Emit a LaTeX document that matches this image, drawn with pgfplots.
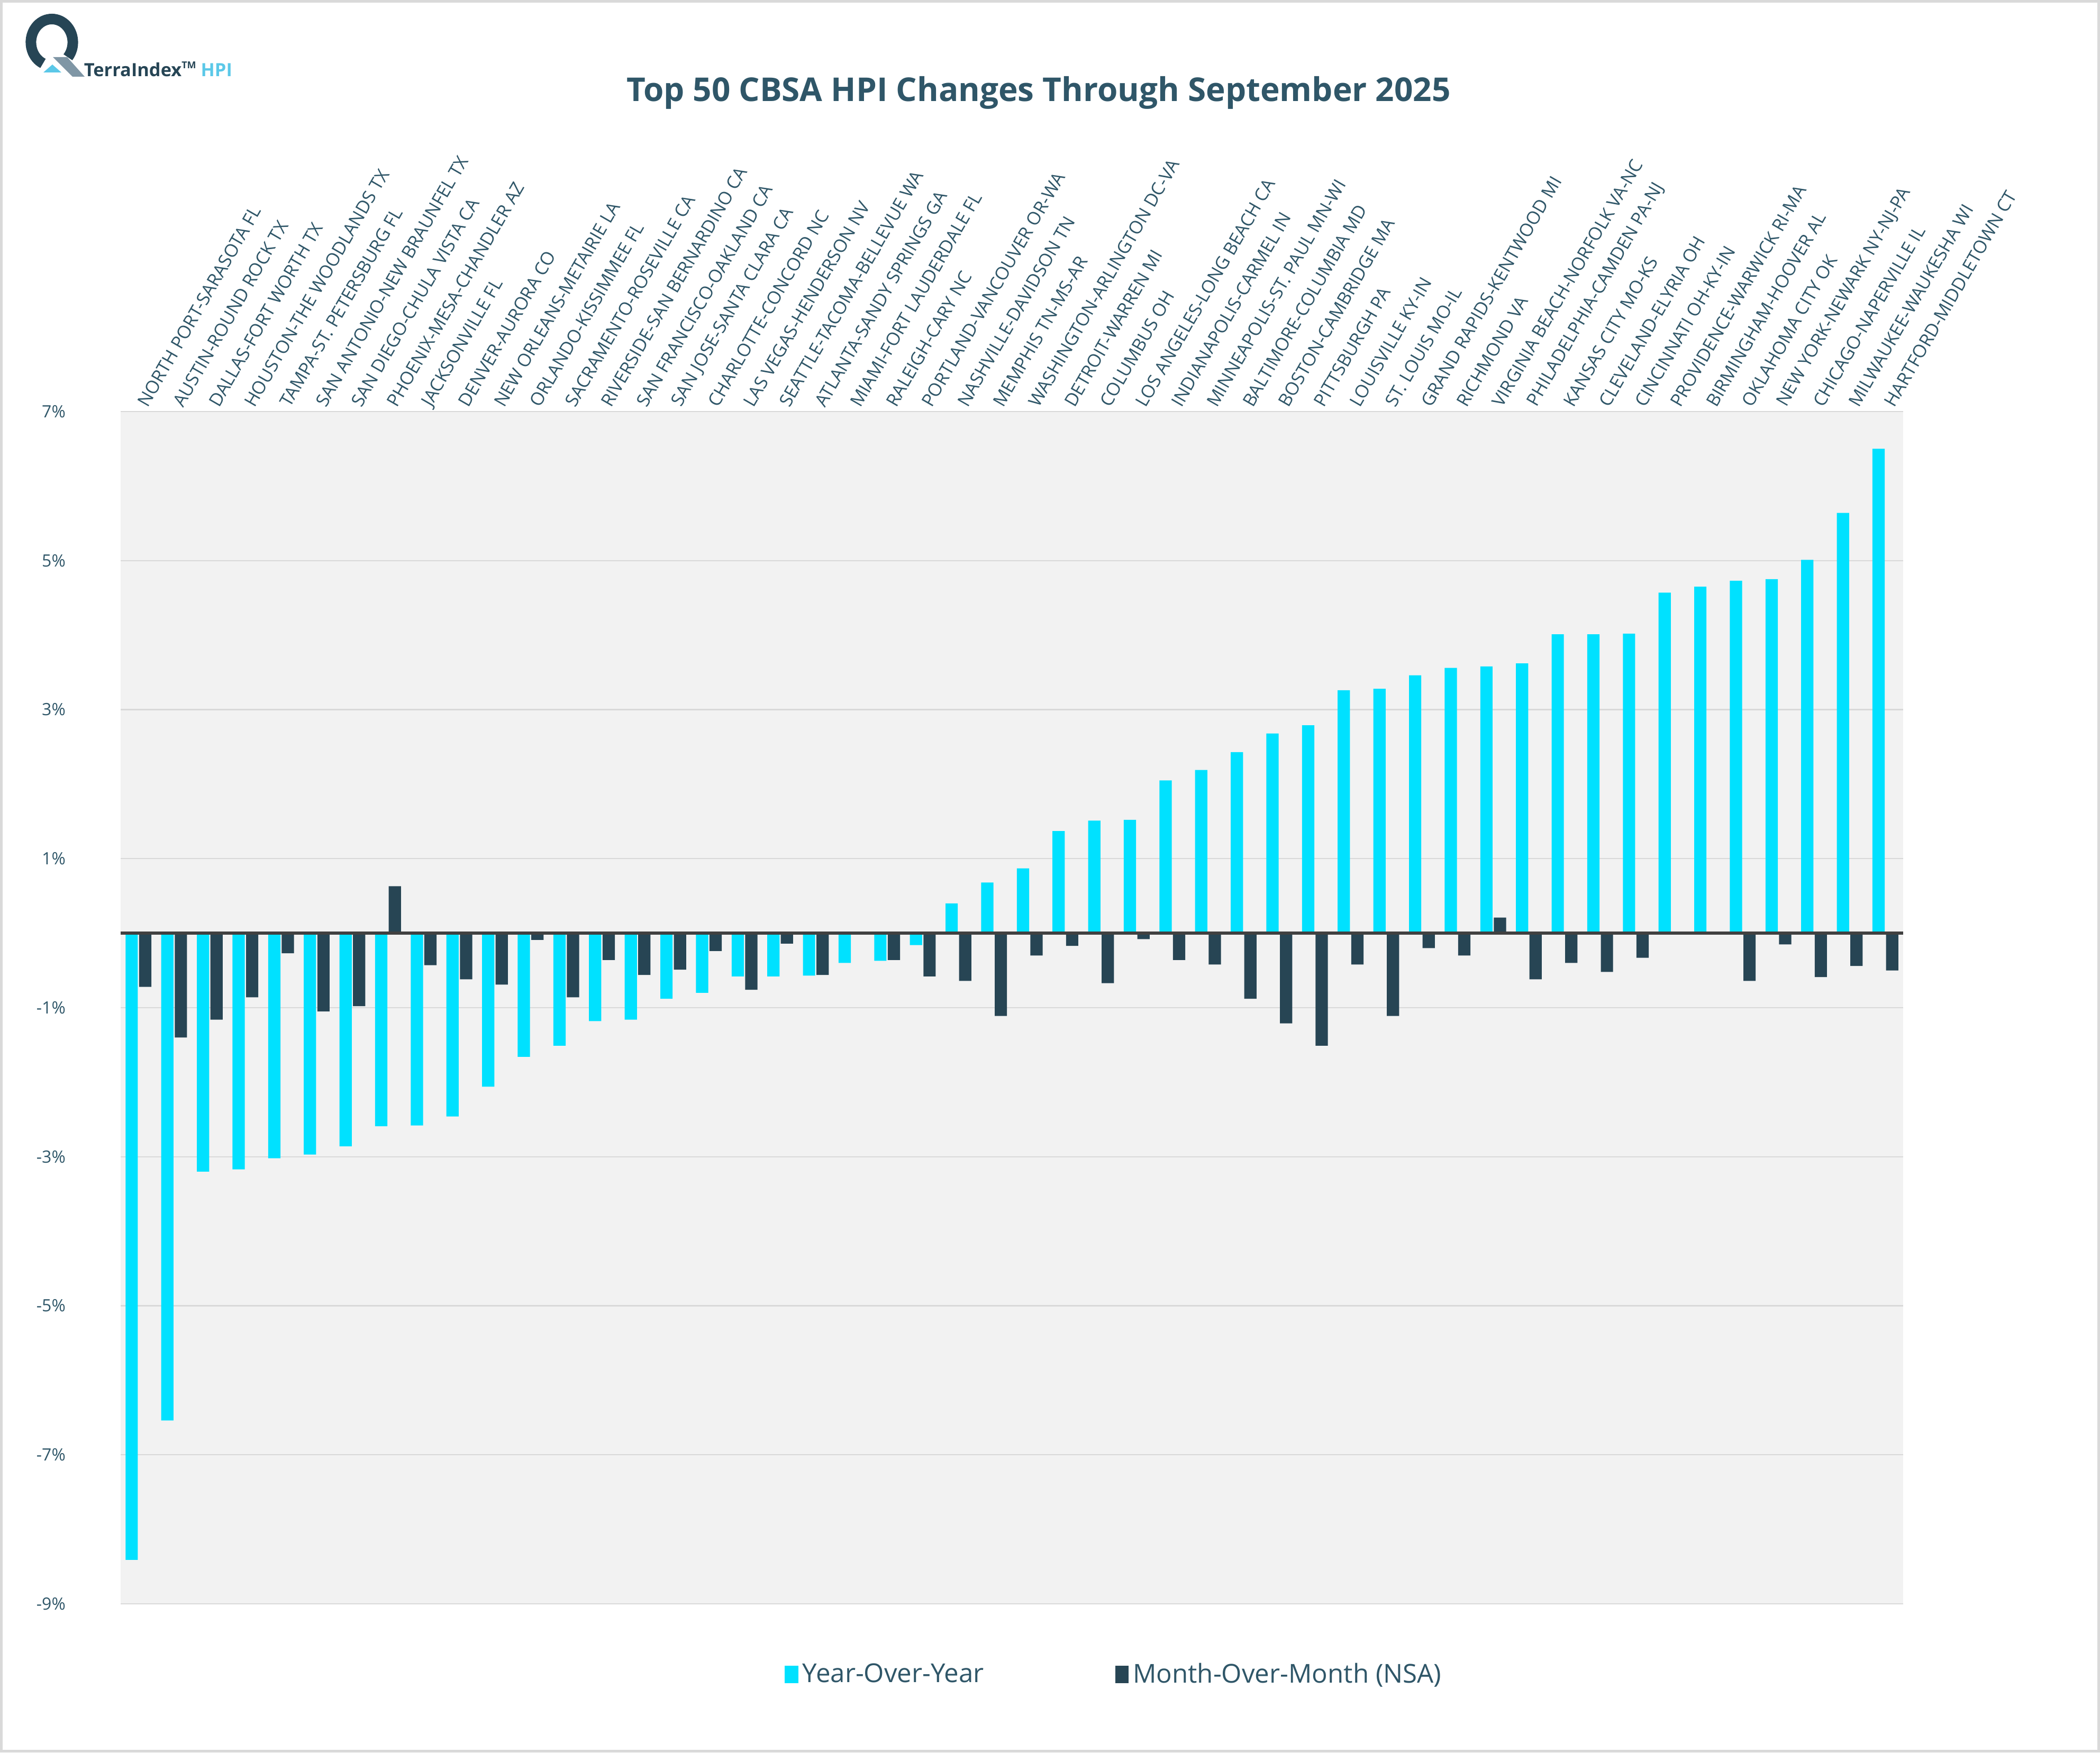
\documentclass[border=0pt]{standalone}
\usepackage{pgfplots}
\pgfplotsset{compat=1.18}
\usepackage{pgfplotstable}
\usepackage{fontspec}
\setmainfont{Open Sans}

\definecolor{yoy}{HTML}{00E1FF}
\definecolor{mom}{HTML}{274554}
\definecolor{txt}{HTML}{2F5668}
\definecolor{gridgray}{HTML}{D9D9D9}
\definecolor{plotbg}{HTML}{F2F2F2}
\definecolor{zeroline}{HTML}{404040}
\definecolor{logodark}{HTML}{264555}
\definecolor{logogray}{HTML}{7F96A5}
\definecolor{logocyan}{HTML}{5BC8E8}

% idx, year-over-year %, month-over-month (NSA) %
\pgfplotstableread{
idx yoy mom
1  -8.41 -0.72
2  -6.54 -1.40
3  -3.20 -1.16
4  -3.17 -0.86
5  -3.02 -0.27
6  -2.97 -1.05
7  -2.86 -0.98
8  -2.59  0.63
9  -2.58 -0.43
10 -2.46 -0.62
11 -2.06 -0.69
12 -1.66 -0.09
13 -1.51 -0.86
14 -1.18 -0.36
15 -1.16 -0.56
16 -0.88 -0.49
17 -0.80 -0.24
18 -0.58 -0.76
19 -0.58 -0.14
20 -0.57 -0.56
21 -0.40  0.02
22 -0.37 -0.36
23 -0.16 -0.58
24  0.40 -0.64
25  0.68 -1.11
26  0.87 -0.30
27  1.37 -0.17
28  1.51 -0.67
29  1.52 -0.08
30  2.05 -0.36
31  2.19 -0.42
32  2.43 -0.88
33  2.68 -1.21
34  2.79 -1.51
35  3.26 -0.42
36  3.28 -1.11
37  3.46 -0.20
38  3.56 -0.30
39  3.58  0.21
40  3.62 -0.62
41  4.01 -0.40
42  4.01 -0.52
43  4.02 -0.33
44  4.57  0.02
45  4.65  0.00
46  4.73 -0.64
47  4.75 -0.15
48  5.01 -0.59
49  5.64 -0.44
50  6.50 -0.50
}\hpidata

\begin{document}
\begin{tikzpicture}
\useasboundingbox (0,0) rectangle (992.25pt,828.25pt);
\draw[gridgray, line width=1.2pt] (0.6pt,0.6pt) rectangle (991.65pt,827.65pt);

% logo
\draw[logodark, line width=5pt] (24.5pt,808.25pt) ++(-40:9.9pt and 11pt)
  arc[start angle=-40, end angle=245, x radius=9.9pt, y radius=11pt];
\fill[logogray] (25pt,801.25pt) -- (31.75pt,801.25pt) -- (40pt,792pt) -- (34.25pt,792pt) -- cycle;
\fill[logocyan] (20.5pt,794pt) -- (29pt,794pt) -- (24.75pt,797.75pt) -- cycle;
\node[anchor=base west, inner sep=0pt, font=\bfseries\fontsize{8.6}{10}\selectfont, text=logodark]
  at (39.5pt,792pt) {TerraIndex\raisebox{0.45em}{\fontsize{4.5}{5}\selectfont TM}\ \textcolor{logocyan}{HPI}};

\node[font=\bfseries\fontsize{15.5}{18}\selectfont, text=txt] at (490.75pt,784.5pt)
  {Top 50 CBSA HPI Changes Through September 2025};

\begin{axis}[
  at={(57pt,70.25pt)}, anchor=south west,
  width=842.25pt, height=563.5pt, scale only axis,
  xmin=0.5, xmax=50.5, ymin=-9, ymax=7,
  ybar=0.6pt, bar width=5.8pt,
  axis background/.style={fill=plotbg},
  axis line style={draw=none},
  major tick length=0pt,
  ymajorgrids, grid style={color=gridgray, line width=0.6pt},
  ytick={-9,-7,-5,-3,-1,1,3,5,7},
  yticklabels={-9\%,-7\%,-5\%,-3\%,-1\%,1\%,3\%,5\%,7\%},
  yticklabel style={font=\fontsize{8}{9}\selectfont, text=txt, xshift=-22.5pt},
  xtick={1,...,50},
  xticklabel pos=upper,
  xticklabels={NORTH PORT-SARASOTA FL, AUSTIN-ROUND ROCK TX, DALLAS-FORT WORTH TX,
    HOUSTON-THE WOODLANDS TX, TAMPA-ST. PETERSBURG FL, SAN ANTONIO-NEW BRAUNFEL TX,
    SAN DIEGO-CHULA VISTA CA, PHOENIX-MESA-CHANDLER AZ, JACKSONVILLE FL,
    DENVER-AURORA CO, NEW ORLEANS-METAIRIE LA, ORLANDO-KISSIMMEE FL,
    SACRAMENTO-ROSEVILLE CA, RIVERSIDE-SAN BERNARDINO CA, SAN FRANCISCO-OAKLAND CA,
    SAN JOSE-SANTA CLARA CA, CHARLOTTE-CONCORD NC, LAS VEGAS-HENDERSON NV,
    SEATTLE-TACOMA-BELLEVUE WA, ATLANTA-SANDY SPRINGS GA, MIAMI-FORT LAUDERDALE FL,
    RALEIGH-CARY NC, PORTLAND-VANCOUVER OR-WA, NASHVILLE-DAVIDSON TN,
    MEMPHIS TN-MS-AR, WASHINGTON-ARLINGTON DC-VA, DETROIT-WARREN MI,
    COLUMBUS OH, LOS ANGELES-LONG BEACH CA, INDIANAPOLIS-CARMEL IN,
    MINNEAPOLIS-ST. PAUL MN-WI, BALTIMORE-COLUMBIA MD, BOSTON-CAMBRIDGE MA,
    PITTSBURGH PA, LOUISVILLE KY-IN, ST. LOUIS MO-IL, GRAND RAPIDS-KENTWOOD MI,
    RICHMOND VA, VIRGINIA BEACH-NORFOLK VA-NC, PHILADELPHIA-CAMDEN PA-NJ,
    KANSAS CITY MO-KS, CLEVELAND-ELYRIA OH, CINCINNATI OH-KY-IN,
    PROVIDENCE-WARWICK RI-MA, BIRMINGHAM-HOOVER AL, OKLAHOMA CITY OK,
    NEW YORK-NEWARK NY-NJ-PA, CHICAGO-NAPERVILLE IL, MILWAUKEE-WAUKESHA WI,
    HARTFORD-MIDDLETOWN CT},
  xticklabel style={rotate=60, anchor=west, font=\fontsize{8.5}{10}\selectfont, text=txt},
  legend columns=2,
  legend style={at={(0.558,-0.0594)}, anchor=center, draw=none, fill=none,
    font=\fontsize{12.3}{14}\selectfont, text=txt,
    /tikz/every even column/.append style={column sep=60pt}},
  legend image code/.code={\draw[#1, draw=none] (0pt,-4pt) rectangle (6.4pt,4.2pt);},
]
\addplot[fill=yoy, draw=none] table[x=idx, y=yoy]{\hpidata};
\addlegendentry{Year-Over-Year}
\addplot[fill=mom, draw=none] table[x=idx, y=mom]{\hpidata};
\addlegendentry{Month-Over-Month (NSA)}
\draw[zeroline, line width=1.6pt] (axis cs:0.5,0) -- (axis cs:50.5,0);
\end{axis}
\end{tikzpicture}
\end{document}
